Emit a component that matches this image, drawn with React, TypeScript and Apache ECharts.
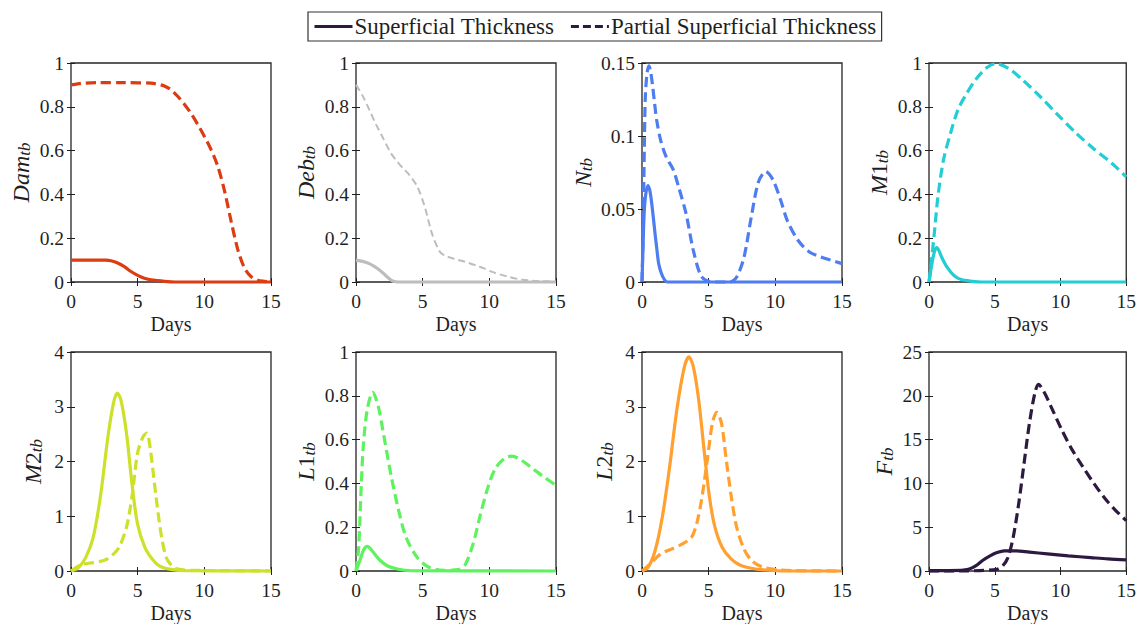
import React, { useEffect, useRef } from 'react';
import * as echarts from 'echarts';

const SERIF = 'Liberation Serif';
const INK = '#1f1f1f';

const xTicks = [0, 5, 10, 15];
const legendNames = ['Superficial Thickness', 'Partial Superficial Thickness'];

// Dam_tb
const damSolidX = [0, 1, 2, 2.6, 3.0, 3.5, 4.0, 4.5, 5.0, 5.5, 6.0, 6.5, 7.0, 7.5, 8, 10, 15];
const damSolidY = [0.1, 0.1, 0.1, 0.1, 0.097, 0.087, 0.07, 0.048, 0.03, 0.017, 0.01, 0.006, 0.003, 0.001, 0, 0, 0];
const damDashX = [0, 0.5, 1, 2, 4, 6, 6.6, 7.0, 7.5, 8.0, 8.5, 9, 9.5, 10, 10.5, 11, 11.5, 12, 12.5, 13, 13.5, 14, 14.5, 15];
const damDashY = [0.9, 0.905, 0.908, 0.91, 0.91, 0.908, 0.902, 0.895, 0.878, 0.848, 0.812, 0.77, 0.72, 0.665, 0.605, 0.53, 0.42, 0.28, 0.15, 0.065, 0.025, 0.008, 0.003, 0];

// Deb_tb
const debSolidX = [0, 0.5, 1, 1.4, 1.8, 2.1, 2.4, 2.8, 3.2, 15];
const debSolidY = [0.1, 0.094, 0.084, 0.07, 0.053, 0.037, 0.02, 0.003, 0, 0];
const debDashX = [0, 0.5, 1, 1.5, 2.1, 2.6, 3.2, 3.6, 4.0, 4.6, 5.16, 5.7, 6.3, 6.7, 7.1, 7.6, 8.2, 9.0, 9.6, 10.2, 11.3, 12.4, 13.5, 15];
const debDashY = [0.9, 0.85, 0.786, 0.72, 0.649, 0.59, 0.542, 0.515, 0.489, 0.435, 0.343, 0.221, 0.137, 0.12, 0.111, 0.102, 0.092, 0.076, 0.062, 0.046, 0.026, 0.011, 0.005, 0.002];

// N_tb
const nSolidX = [0, 0.08, 0.16, 0.28, 0.44, 0.58, 0.7, 0.84, 0.98, 1.12, 1.25, 1.45, 1.66, 1.9, 15];
const nSolidY = [0, 0.025, 0.047, 0.06, 0.066, 0.063, 0.056, 0.045, 0.033, 0.022, 0.0126, 0.006, 0.002, 0, 0];
const nDashX = [0, 0.05, 0.1, 0.18, 0.25, 0.38, 0.52, 0.65, 0.8, 0.95, 1.1, 1.4, 1.8, 2.34, 2.75, 3.3, 3.84, 4.4, 4.9, 5.5, 6.6, 7.1, 7.65, 8.2, 8.74, 9.28, 9.83, 10.4, 10.9, 11.7, 12.55, 13.4, 14.2, 15];
const nDashY = [0, 0.02, 0.045, 0.095, 0.127, 0.143, 0.148, 0.144, 0.134, 0.122, 0.111, 0.097, 0.086, 0.077, 0.065, 0.047, 0.022, 0.0046, 0.0007, 0, 0, 0.0034, 0.017, 0.0447, 0.0687, 0.0756, 0.0698, 0.056, 0.042, 0.0286, 0.0206, 0.0172, 0.0149, 0.0126];

// M1_tb
const m1SolidX = [0, 0.27, 0.45, 0.6, 0.78, 0.95, 1.36, 1.9, 2.45, 3.3, 4, 15];
const m1SolidY = [0, 0.1, 0.145, 0.157, 0.14, 0.115, 0.069, 0.03, 0.011, 0.003, 0, 0];
const m1DashX = [0, 0.14, 0.4, 0.68, 1.1, 1.64, 2.2, 2.73, 3.55, 4.36, 5.05, 6.0, 7.1, 8.45, 9.8, 11.2, 12.5, 13.9, 15];
const m1DashY = [0, 0.069, 0.22, 0.39, 0.557, 0.68, 0.786, 0.847, 0.924, 0.977, 0.997, 0.977, 0.924, 0.847, 0.763, 0.679, 0.61, 0.542, 0.48];

// M2_tb
const m2SolidX = [0, 0.55, 1.1, 1.66, 2.2, 2.77, 3.19, 3.47, 3.74, 4.16, 4.57, 4.99, 5.54, 6.1, 6.65, 7.5, 8.6, 15];
const m2SolidY = [0, 0.06, 0.245, 0.61, 1.35, 2.45, 3.07, 3.25, 3.13, 2.52, 1.6, 0.86, 0.43, 0.215, 0.09, 0.03, 0.006, 0];
const m2DashX = [0, 0.7, 1.66, 2.5, 3.05, 3.6, 4.16, 4.57, 4.99, 5.4, 5.68, 5.96, 6.38, 6.8, 7.2, 7.76, 8.3, 9.15, 15];
const m2DashY = [0, 0.11, 0.153, 0.196, 0.276, 0.43, 0.8, 1.35, 2.15, 2.45, 2.52, 2.2, 1.35, 0.61, 0.215, 0.06, 0.025, 0.012, 0];

// L1_tb
const l1SolidX = [0, 0.28, 0.56, 0.84, 1.05, 1.25, 1.8, 2.37, 3.2, 4.04, 15];
const l1SolidY = [0, 0.046, 0.095, 0.112, 0.104, 0.089, 0.049, 0.023, 0.008, 0.002, 0];
const l1DashX = [0, 0.2, 0.4, 0.56, 0.84, 1.25, 1.67, 2.1, 2.65, 3.2, 3.76, 4.6, 5.44, 6.55, 7.67, 8.2, 8.78, 9.34, 9.9, 10.45, 11.15, 11.7, 12.4, 13.24, 14.08, 15];
const l1DashY = [0, 0.107, 0.4, 0.58, 0.736, 0.816, 0.752, 0.613, 0.43, 0.276, 0.153, 0.061, 0.018, 0.003, 0.006, 0.03, 0.123, 0.26, 0.383, 0.468, 0.514, 0.525, 0.506, 0.468, 0.43, 0.391];

// L2_tb
const l2SolidX = [0, 0.44, 0.98, 1.52, 2.07, 2.61, 3.16, 3.51, 3.84, 4.25, 4.66, 5.06, 5.47, 6.02, 6.7, 7.38, 8.2, 9.28, 10.9, 15];
const l2SolidY = [0, 0.06, 0.37, 0.98, 1.9, 2.94, 3.71, 3.91, 3.74, 3.13, 2.2, 1.35, 0.8, 0.43, 0.215, 0.104, 0.05, 0.018, 0, 0];
const l2DashX = [0, 0.57, 1.39, 2.2, 3.0, 3.7, 4.1, 4.5, 4.93, 5.28, 5.6, 5.96, 6.29, 6.7, 7.1, 7.65, 8.2, 9.0, 10.1, 11.5, 15];
const l2DashY = [0, 0.12, 0.31, 0.4, 0.49, 0.61, 0.86, 1.35, 2.09, 2.7, 2.9, 2.7, 2.09, 1.35, 0.8, 0.4, 0.196, 0.074, 0.025, 0.006, 0];

// F_tb
const fSolidX = [0, 2.45, 3.0, 3.55, 4.1, 4.64, 5.18, 5.73, 6.55, 7.64, 9.0, 10.6, 12.3, 13.6, 15];
const fSolidY = [0.05, 0.08, 0.19, 0.58, 1.23, 1.73, 2.11, 2.3, 2.3, 2.15, 1.96, 1.73, 1.53, 1.38, 1.27];
const fDashX = [0, 3, 5.18, 5.6, 6.0, 6.4, 6.82, 7.23, 7.64, 8.05, 8.32, 8.73, 9.27, 10.1, 10.9, 11.7, 12.55, 13.4, 14.2, 15];
const fDashY = [0, 0.02, 0.19, 0.58, 1.53, 3.83, 7.67, 12.3, 16.9, 20.3, 21.3, 20.5, 18.8, 16.1, 13.8, 11.9, 9.97, 8.24, 6.9, 5.75];

const yMaxes = [1, 1, 0.15, 1, 4, 1, 4, 25];
const yIntervals = [0.2, 0.2, 0.05, 0.2, 1, 0.2, 1, 5];
const yNames = [
  '{i|Dam}{s|tb}',
  '{i|Deb}{s|tb}',
  '{i|N}{s|tb}',
  '{i|M}{r|1}{s|tb}',
  '{i|M}{r|2}{s|tb}',
  '{i|L}{r|1}{s|tb}',
  '{i|L}{r|2}{s|tb}',
  '{i|F}{s|tb}',
];
const colors = ['#dc3c10', '#bdbdbd', '#4d7df0', '#22cdd3', '#cde02a', '#5ef25e', '#ffa030', '#2e1a40'];

const panels = [
  { solid: [damSolidX, damSolidY], dash: [damDashX, damDashY] },
  { solid: [debSolidX, debSolidY], dash: [debDashX, debDashY] },
  { solid: [nSolidX, nSolidY], dash: [nDashX, nDashY] },
  { solid: [m1SolidX, m1SolidY], dash: [m1DashX, m1DashY] },
  { solid: [m2SolidX, m2SolidY], dash: [m2DashX, m2DashY] },
  { solid: [l1SolidX, l1SolidY], dash: [l1DashX, l1DashY] },
  { solid: [l2SolidX, l2SolidY], dash: [l2DashX, l2DashY] },
  { solid: [fSolidX, fSolidY], dash: [fDashX, fDashY] },
];

const gridLefts = [71, 356, 642, 929];
const gridTops = [63, 352];
const nameGaps = [38, 38, 47, 38, 26, 38, 26, 33];
const GW = 200;
const GH = 219;

function zip(xs: number[], ys: number[]) {
  return xs.map((x, i) => [x, ys[i]]);
}

function buildOption() {
  const grid: any[] = [];
  const xAxis: any[] = [];
  const yAxis: any[] = [];
  const series: any[] = [];
  const tickStyle = { color: INK, width: 1 };
  for (let i = 0; i < 8; i++) {
    grid.push({
      left: gridLefts[i % 4],
      top: gridTops[Math.floor(i / 4)],
      width: GW,
      height: GH,
      show: true,
      borderColor: '#262626',
      borderWidth: 1.3,
      backgroundColor: '#fff',
      containLabel: false,
    });
  }
  for (let i = 0; i < 8; i++) {
    xAxis.push({
      type: 'value',
      gridIndex: i,
      min: 0,
      max: 15,
      interval: 5,
      position: 'bottom',
      name: 'Days',
      nameLocation: 'middle',
      nameGap: 32,
      nameTextStyle: { fontFamily: SERIF, fontSize: 20, color: INK },
      axisLine: { show: false },
      axisTick: { show: true, inside: true, length: 4, lineStyle: tickStyle },
      axisLabel: { fontFamily: SERIF, fontSize: 19.5, color: INK, margin: 9 },
      splitLine: { show: false },
    });
    yAxis.push({
      type: 'value',
      gridIndex: i,
      min: 0,
      max: yMaxes[i],
      interval: yIntervals[i],
      position: 'left',
      name: yNames[i],
      nameLocation: 'middle',
      nameRotate: 90,
      nameGap: nameGaps[i],
      nameTextStyle: {
        fontFamily: SERIF,
        color: INK,
        rich: {
          i: { fontFamily: SERIF, fontStyle: 'italic', fontSize: 24, color: INK, lineHeight: 24 },
          r: { fontFamily: SERIF, fontSize: 24, color: INK, lineHeight: 24 },
          s: { fontFamily: SERIF, fontStyle: 'italic', fontSize: 17, color: INK, lineHeight: 12, verticalAlign: 'bottom' },
        },
      },
      axisLine: { show: false },
      axisTick: { show: true, inside: true, length: 4, lineStyle: tickStyle },
      axisLabel: { fontFamily: SERIF, fontSize: 19.5, color: INK, margin: 7 },
      splitLine: { show: false },
    });
  }
  for (let i = 0; i < 8; i++) {
    xAxis.push({
      type: 'value',
      gridIndex: i,
      min: 0,
      max: 15,
      interval: 5,
      position: 'top',
      axisLine: { show: false },
      axisTick: { show: true, inside: true, length: 4, lineStyle: tickStyle },
      axisLabel: { show: false },
      splitLine: { show: false },
    });
    yAxis.push({
      type: 'value',
      gridIndex: i,
      min: 0,
      max: yMaxes[i],
      interval: yIntervals[i],
      position: 'right',
      axisLine: { show: false },
      axisTick: { show: true, inside: true, length: 4, lineStyle: tickStyle },
      axisLabel: { show: false },
      splitLine: { show: false },
    });
  }
  panels.forEach((p, i) => {
    const c = colors[i];
    series.push({
      type: 'line',
      name: 'solid-' + i,
      xAxisIndex: i,
      yAxisIndex: i,
      data: zip(p.solid[0], p.solid[1]),
      symbol: 'none',
      smooth: 0.3,
      clip: false,
      lineStyle: { color: c, width: 3.2, type: 'solid' },
      itemStyle: { color: c },
      z: 3,
    });
    series.push({
      type: 'line',
      name: 'dash-' + i,
      xAxisIndex: i,
      yAxisIndex: i,
      data: zip(p.dash[0], p.dash[1]),
      symbol: 'none',
      smooth: 0.3,
      clip: false,
      lineStyle: { color: c, width: i === 1 ? 2 : 3.2, type: i === 1 ? [7, 4] : [10, 5] },
      itemStyle: { color: c },
      z: 4,
    });
  });
  // legend-only series
  series.push({
    type: 'line',
    name: legendNames[0],
    xAxisIndex: 0,
    yAxisIndex: 0,
    data: [],
    symbol: 'none',
    lineStyle: { color: '#2e1a40', width: 3, type: 'solid' },
    itemStyle: { color: '#2e1a40' },
  });
  series.push({
    type: 'line',
    name: legendNames[1],
    xAxisIndex: 0,
    yAxisIndex: 0,
    data: [],
    symbol: 'none',
    lineStyle: { color: '#2e1a40', width: 3, type: [8, 4] },
    itemStyle: { color: '#2e1a40' },
  });

  return {
    animation: false,
    backgroundColor: '#fff',
    legend: {
      data: legendNames,
      left: 308,
      top: 12,
      orient: 'horizontal',
      borderColor: '#333',
      borderWidth: 1.2,
      padding: [3, 5, 3, 5],
      itemGap: 15,
      itemWidth: 38,
      itemHeight: 14,
      itemStyle: { color: 'rgba(0,0,0,0)', borderColor: 'rgba(0,0,0,0)', borderWidth: 0, opacity: 0 },
      lineStyle: { width: 3 },
      textStyle: { fontFamily: SERIF, fontSize: 23, color: INK, padding: [0, 0, 0, -3] },
      selectedMode: false,
    },
    grid,
    xAxis,
    yAxis,
    series,
  };
}

export default function App() {
  const ref = useRef<HTMLDivElement>(null);
  useEffect(() => {
    if (!ref.current) return;
    const chart = echarts.init(ref.current, null, { renderer: 'svg' });
    chart.setOption(buildOption() as any);
    return () => chart.dispose();
  }, []);
  return (
    <div
      ref={ref}
      style={{ position: 'absolute', left: 0, top: 0, width: 1139, height: 624, background: '#fff' }}
    />
  );
}
